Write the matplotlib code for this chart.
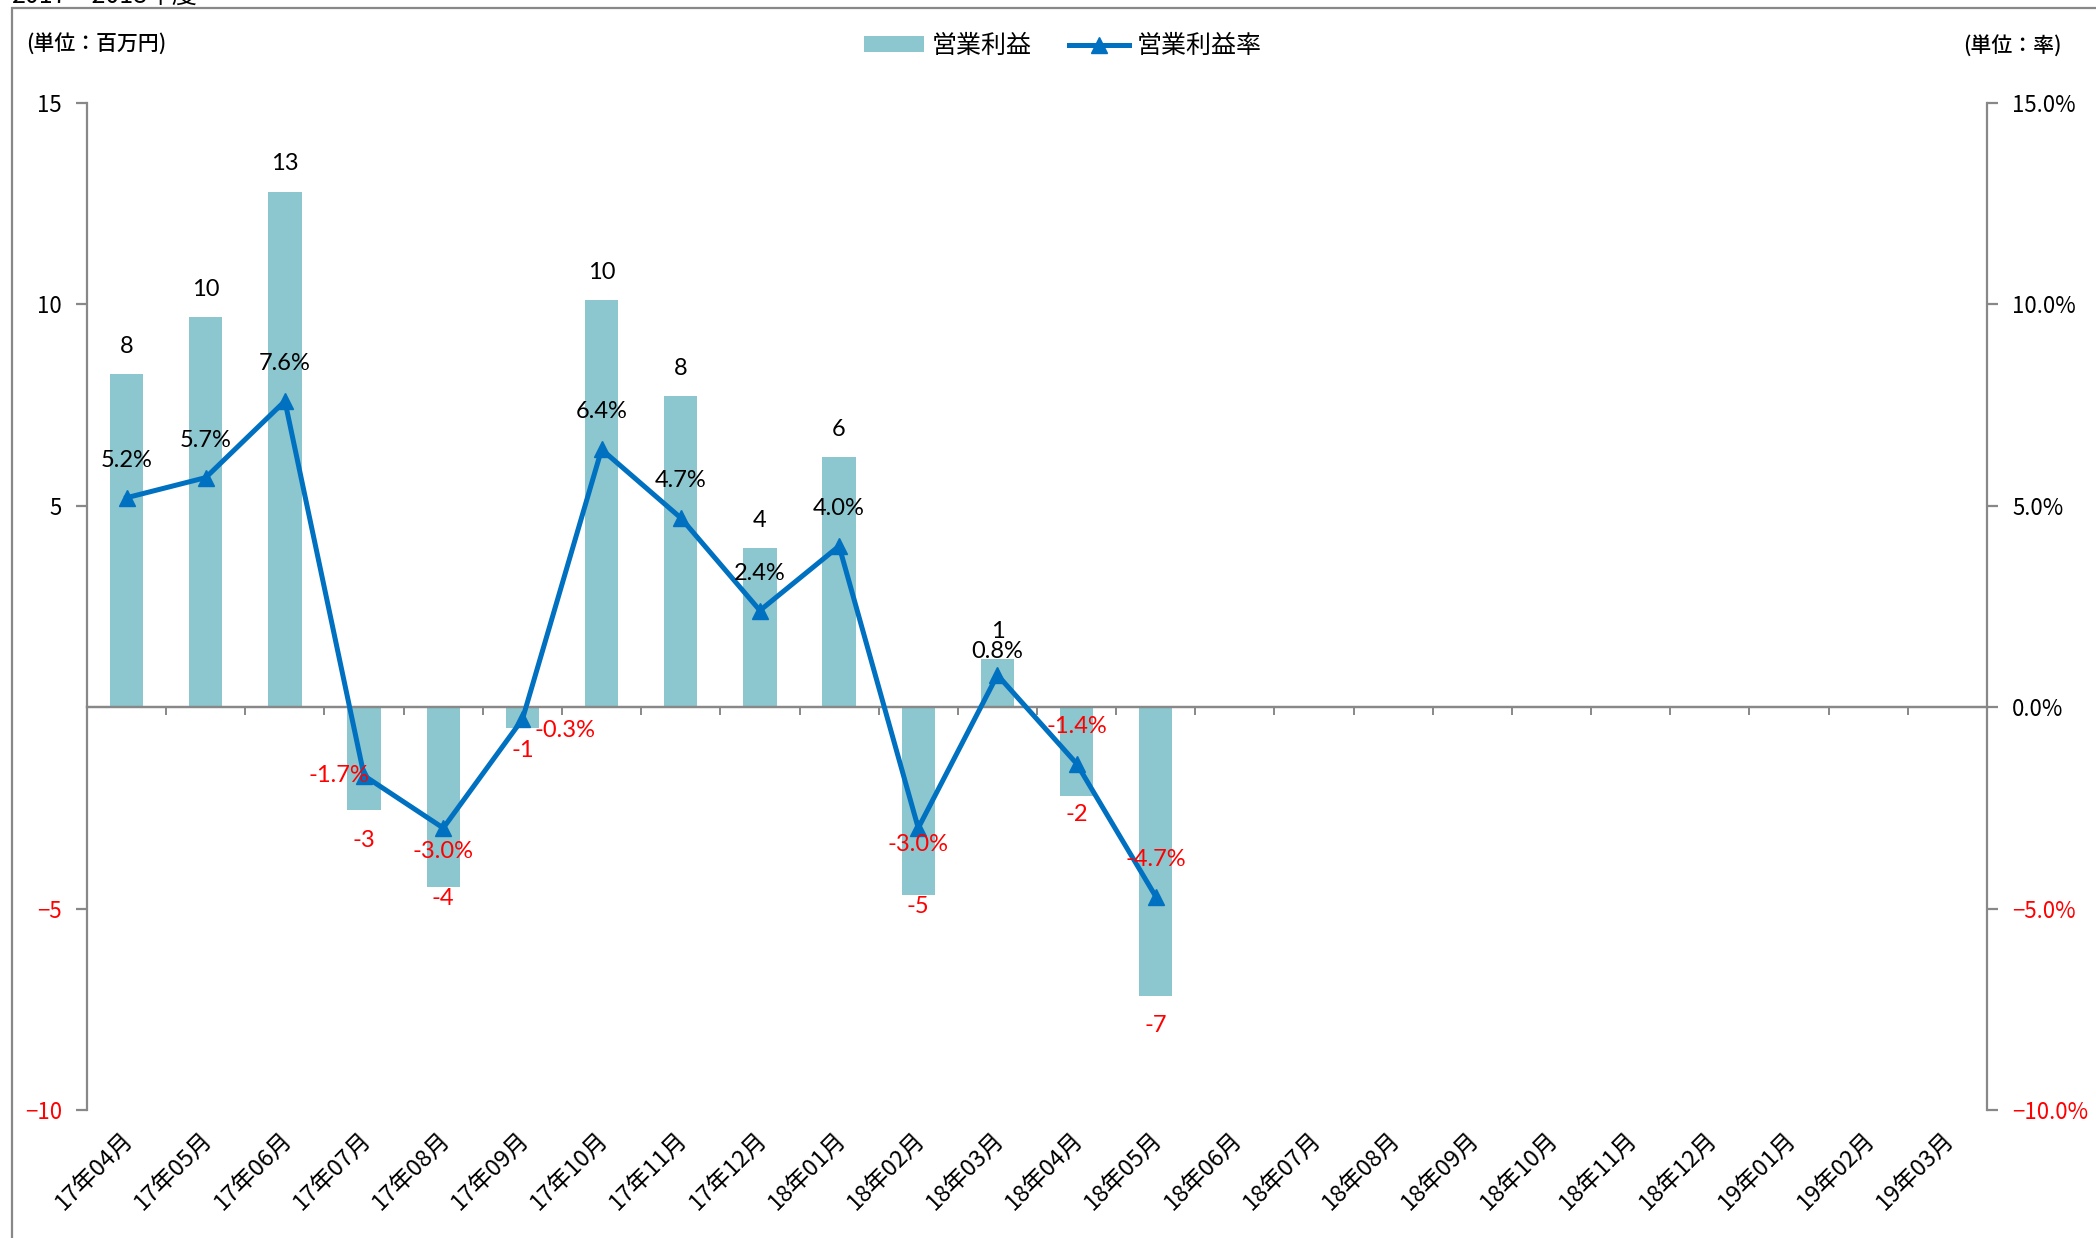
import numpy as np
import matplotlib
matplotlib.use("Agg")
import matplotlib.pyplot as plt
from matplotlib.patches import Rectangle
from matplotlib.lines import Line2D
from matplotlib.patches import Patch

plt.rcParams['font.family'] = ['Noto Sans CJK JP', 'DejaVu Sans']

months = ["17年04月", "17年05月", "17年06月", "17年07月", "17年08月", "17年09月",
          "17年10月", "17年11月", "17年12月", "18年01月", "18年02月", "18年03月",
          "18年04月", "18年05月", "18年06月", "18年07月", "18年08月", "18年09月",
          "18年10月", "18年11月", "18年12月", "19年01月", "19年02月", "19年03月"]

# 営業利益 (百万円) - only first 14 months have data
profit = [8.26, 9.68, 12.8, -2.56, -4.47, -0.52, 10.1, 7.72, 3.94, 6.2,
          -4.67, 1.2, -2.21, -7.17]
profit_labels = ["8", "10", "13", "-3", "-4", "-1", "10", "8", "4", "6",
                 "-5", "1", "-2", "-7"]

# 営業利益率 (%)
margin = [5.2, 5.7, 7.6, -1.7, -3.0, -0.3, 6.4, 4.7, 2.4, 4.0, -3.0, 0.8, -1.4, -4.7]

left_ticks = [15, 10, 5, -5, -10]
right_ticks = [15, 10, 5, 0, -5, -10]

BAR_COLOR = "#8CC6CE"
LINE_COLOR = "#0070C0"
AXIS_COLOR = "#888888"
RED = "#FF0000"

LABEL_FONT = ["Lato", "DejaVu Sans"]
TICK_FONT = ["Liberation Sans Narrow", "Noto Sans CJK JP", "DejaVu Sans"]

# label offsets in points (layout only)
line_offsets = [(0, 27), (0, 27), (0, 27), (-18, 0), (0, -17), (31, -8),
                (0, 27), (0, 27), (0, 27), (0, 27), (0, -12), (0, 17),
                (0, 27), (0, 27)]
bar_offsets_neg = {3: -22, 4: -8, 5: -16, 10: -8, 12: -13, 13: -21}

fig = plt.figure(figsize=(20.96, 12.38), dpi=100)
W, H = 2096, 1238

# outer frame (extends past the canvas)
fig.patches.append(Rectangle((12 / W, -0.1), 1.2, 1 - 8 / H + 0.1, transform=fig.transFigure,
                             fill=False, edgecolor=AXIS_COLOR, linewidth=1.6, zorder=0))
# clipped title above the frame
fig.text(12 / W, 1 - 3 / H, "2017～2018年度", fontsize=18, va="baseline", ha="left")

ax = fig.add_axes([87 / W, 1 - 1110 / H, (1987 - 87) / W, (1110 - 103) / H])
ax2 = ax.twinx()

xp = np.arange(len(profit))

ax.bar(xp, profit, width=0.42, color=BAR_COLOR, zorder=2)
ax.set_xlim(-0.5, len(months) - 0.5)
ax.set_ylim(-10, 15)
ax2.set_ylim(-10, 15)

ax2.plot(xp, margin, color=LINE_COLOR, linewidth=3.6, marker="^", markersize=12, zorder=5)

# spines
for a in (ax, ax2):
    a.spines["top"].set_visible(False)
    a.spines["bottom"].set_position(("data", 0))
    a.spines["bottom"].set_color(AXIS_COLOR)
    a.spines["bottom"].set_linewidth(1.6)
    a.spines["left"].set_color(AXIS_COLOR)
    a.spines["right"].set_color(AXIS_COLOR)
    a.spines["left"].set_linewidth(1.6)
    a.spines["right"].set_linewidth(1.6)
ax.spines["right"].set_visible(False)
ax2.spines["left"].set_visible(False)

ax.set_xticks(np.arange(0.5, len(months) - 0.5, 1))
ax.set_xticklabels([])
ax.tick_params(axis="x", length=6, width=1.4, color=AXIS_COLOR, direction="out")
ax2.tick_params(axis="x", length=0)

ax.set_yticks(left_ticks)
ax.set_yticklabels([("−" if v < 0 else "") + str(abs(v)) for v in left_ticks],
                   fontsize=16, family=TICK_FONT)
ax.tick_params(axis="y", length=8, width=1.6, color=AXIS_COLOR, pad=10)
for t, v in zip(ax.get_yticklabels(), left_ticks):
    t.set_color(RED if v < 0 else "black")

ax2.set_yticks(right_ticks)
ax2.set_yticklabels([("−" if v < 0 else "") + f"{abs(v):.1f}%" for v in right_ticks],
                    fontsize=16, family=TICK_FONT)
ax2.tick_params(axis="y", length=8, width=1.6, color=AXIS_COLOR, pad=10)
for t, v in zip(ax2.get_yticklabels(), right_ticks):
    t.set_color(RED if v < 0 else "black")

# category labels below the plot
for i, m in enumerate(months):
    ax.annotate(m, (i, -10), xytext=(-3, -13), textcoords="offset points",
                rotation=45, ha="right", va="top", rotation_mode="anchor",
                fontsize=17, family=TICK_FONT)

# bar labels
for i, (v, lab) in enumerate(zip(profit, profit_labels)):
    if v >= 0:
        ax.annotate(lab, (i, v), xytext=(0, 20), textcoords="offset points",
                    ha="center", va="center", fontsize=17, family=LABEL_FONT, color="black")
    else:
        dy = bar_offsets_neg.get(i, -18)
        ax.annotate(lab, (i, v), xytext=(0, dy), textcoords="offset points",
                    ha="center", va="center", fontsize=17, family=LABEL_FONT, color=RED)

# line labels
for i, (v, off) in enumerate(zip(margin, line_offsets)):
    ax2.annotate(f"{v:.1f}%", (i, v), xytext=off, textcoords="offset points",
                 ha="center", va="center", fontsize=17, family=LABEL_FONT,
                 color=RED if v < 0 else "black", zorder=6)

# unit labels
fig.text(26 / W, 1 - 45 / H, "(単位：百万円)", fontsize=15, va="center", ha="left", fontweight="medium")
fig.text(2062 / W, 1 - 47 / H, "(単位：率)", fontsize=15, va="center", ha="right", fontweight="medium")

handles = [Patch(facecolor=BAR_COLOR, edgecolor="none"),
           Line2D([0], [0], color=LINE_COLOR, linewidth=3.6, marker="^", markersize=12)]
fig.legend(handles, ["営業利益", "営業利益率"], loc="center", bbox_to_anchor=(1063 / W, 1 - 46 / H),
           ncol=2, frameon=False, fontsize=18, handlelength=2.4, handleheight=0.6,
           columnspacing=1.5, handletextpad=0.3)

fig.savefig("out.png", dpi=100)
